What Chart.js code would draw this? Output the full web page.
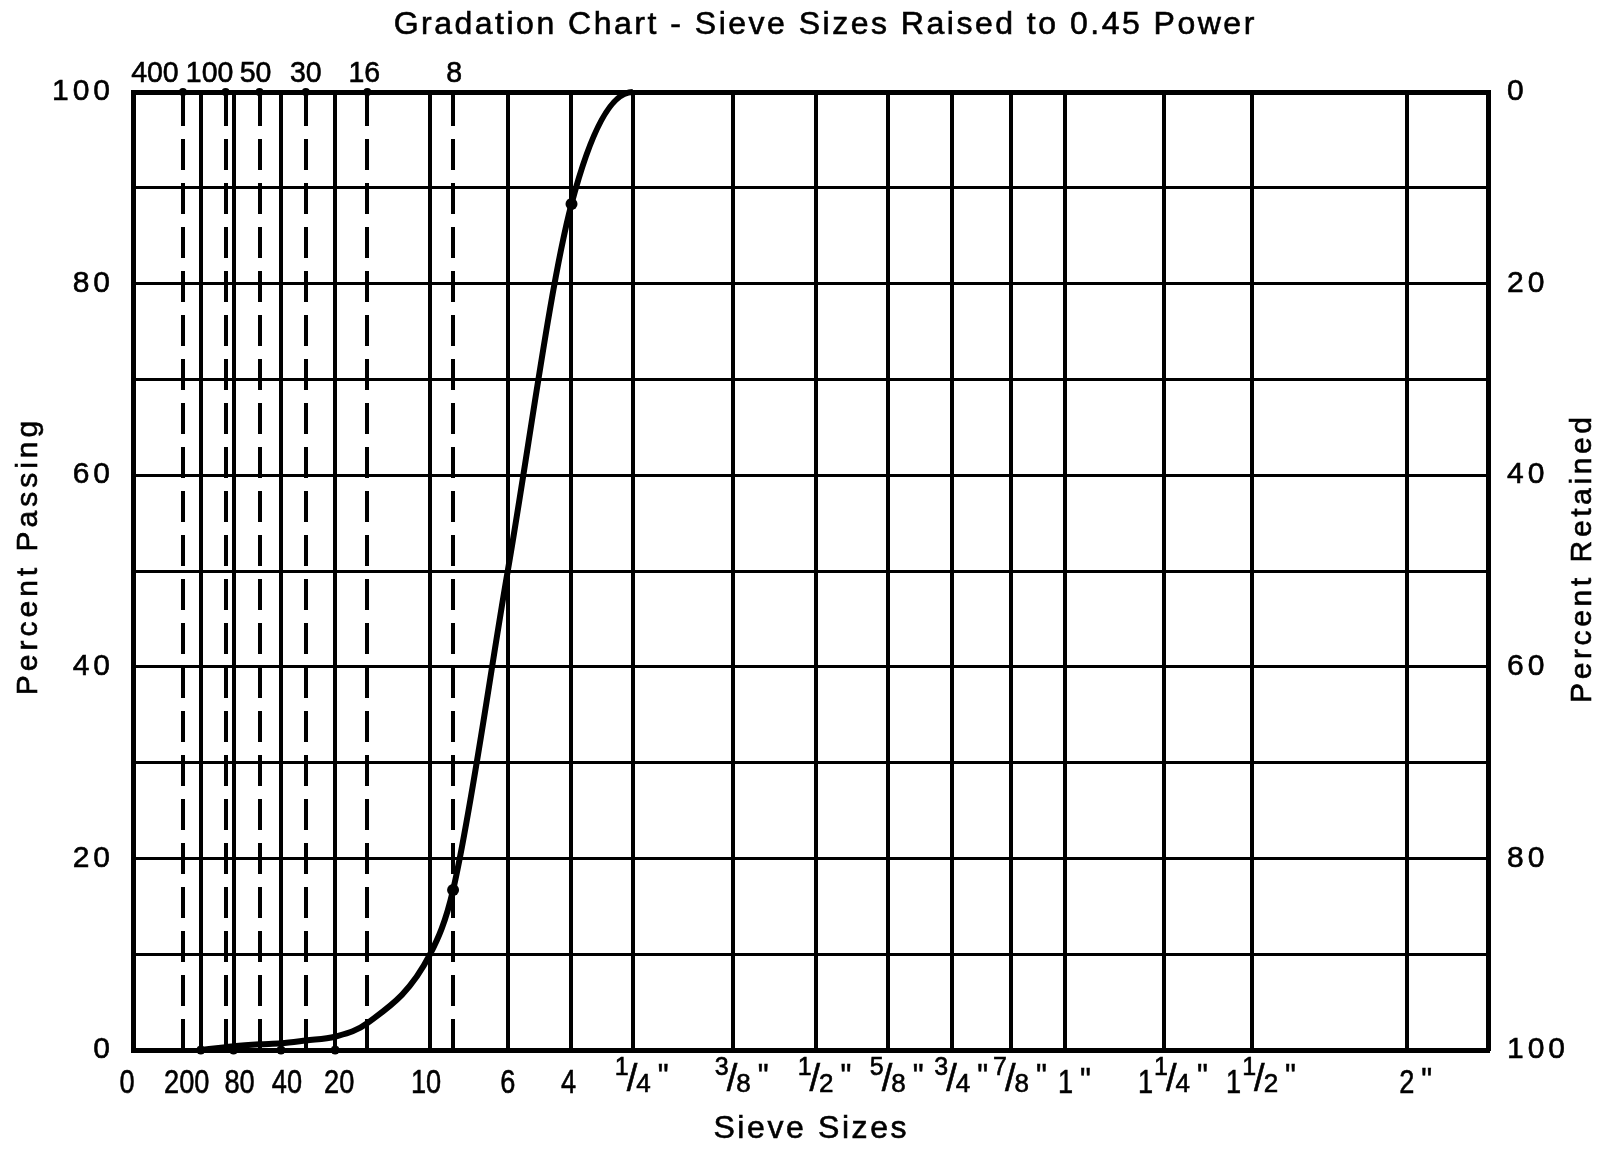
<!DOCTYPE html>
<html>
<head>
<meta charset="utf-8">
<title>Gradation Chart</title>
<script src="https://cdn.jsdelivr.net/npm/chart.js@4.4.1/dist/chart.umd.min.js"></script>
<style>
	html, body { margin: 0; padding: 0; background: #fff; }
	canvas { display: block; }
</style>
</head>
<body>
<canvas id="chart" width="1614" height="1154"></canvas>
<script>
// Sieves labelled along the top (dashed lines), openings in mm
const topSieves = ['400', '100', '50', '30', '16', '8']
const topMm = [0.038, 0.15, 0.3, 0.6, 1.18, 2.36]

// Sieves labelled along the bottom (solid lines)
const bottomSieves = ['200', '80', '40', '20', '10', '6', '4', '1/4"', '3/8"', '1/2"', '5/8"', '3/4"', '7/8"', '1"', '1 1/4"', '1 1/2"', '2"']
const bottomMm = [0.075, 0.18, 0.425, 0.85, 2.0, 3.35, 4.75, 6.35, 9.525, 12.7, 15.875, 19.05, 22.225, 25.4, 31.75, 38.1, 50.8]
const originLabel = '0'

// Gradation curve, percent passing per sieve
const curveSieves = ['200', '100', '80', '50', '40', '30', '20', '16', '10', '8', '6', '4', '1/4"', '3/8"']
const percentPassing = [0, 0.3, 0.4, 0.6, 0.7, 1.0, 1.4, 2.8, 10, 16.7, 50, 88.3, 100, 100]
const markedSieves = ['8', '4']

// Small dots on the frame
const topDotSieves = ['400', '100', '50', '30', '16']
const bottomDotSieves = ['200', '80', '40', '20']

const passingLabels = [0, 20, 40, 60, 80, 100]
const retainedLabels = [0, 20, 40, 60, 80, 100]

const titleText = 'Gradation Chart - Sieve Sizes Raised to 0.45 Power'
const xTitle = 'Sieve Sizes'
const yTitle = 'Percent Passing'
const y2Title = 'Percent Retained'

const FONT = "'Liberation Sans', Arial, Helvetica, sans-serif"
const X_MAX = 6.23
const INK = 0.6 // faint outline so the lettering reads as heavy as the print

// hand-lettered labels sit a little off their lines
const labelNudge = { '0': -6, '200': -14, '80': 6, '40': 6, '20': 4, '10': -4, '4': -3, '400': -28, '100': -16, '50': -4, '16': -3, '8': 1 }

const pow45 = (mm) => Math.pow(mm, 0.45)
const mmOf = (name) => {
	const i = topSieves.indexOf(name)
	return i >= 0 ? topMm[i] : bottomMm[bottomSieves.indexOf(name)]
}

Chart.defaults.font.family = FONT
Chart.defaults.color = '#000'

function drawText(ctx, text, x, y, opts) {
	const { size, spacing = 0, align = 'center', baseline = 'middle', angle = 0, squeeze = 1 } = opts
	ctx.save()
	ctx.translate(x, y)
	ctx.rotate(angle)
	ctx.scale(squeeze, 1)
	ctx.font = `${size}px ${FONT}`
	ctx.letterSpacing = `${spacing}px`
	ctx.textAlign = align
	ctx.textBaseline = baseline
	let dx = 0
	if (align === 'center') dx = spacing / 2
	if (align === 'right') dx = spacing
	ctx.fillStyle = '#000'
	ctx.strokeStyle = '#000'
	ctx.lineWidth = INK
	ctx.fillText(text, dx, 0)
	ctx.strokeText(text, dx, 0)
	ctx.restore()
}

function textWidth(ctx, text, size, squeeze) {
	ctx.save()
	ctx.font = `${size}px ${FONT}`
	ctx.letterSpacing = '0px'
	const w = ctx.measureText(text).width * squeeze
	ctx.restore()
	return w
}

// bottom labels: plain numbers condensed, fractions stacked like 1/4"
function drawSieveLabel(ctx, label, cx) {
	const inch = label.endsWith('"')
	const body = inch ? label.slice(0, -1) : label
	const frac = body.match(/^(?:(\d+) )?(\d+)\/(\d+)$/)
	const parts = []
	if (frac) {
		if (frac[1]) parts.push({ text: frac[1], size: 34, sq: 0.8, base: 1093, kern: 0 })
		parts.push({ text: frac[2], size: 25, sq: 1, base: 1075, kern: frac[1] ? 1 : 0 })
		parts.push({ text: '/', size: 38, sq: 1, base: 1091, kern: -2 })
		parts.push({ text: frac[3], size: 26, sq: 1, base: 1092, kern: -1 })
	} else {
		parts.push({ text: body, size: 34, sq: 0.8, base: 1093, kern: 0 })
	}
	let total = 0
	parts.forEach((p) => {
		p.w = textWidth(ctx, p.text, p.size, p.sq)
		total += p.w + p.kern
	})
	let cursor = cx + (labelNudge[label] || 0) - total / 2
	parts.forEach((p) => {
		cursor += p.kern
		drawText(ctx, p.text, cursor, p.base, { size: p.size, squeeze: p.sq, align: 'left', baseline: 'alphabetic' })
		cursor += p.w
	})
	if (inch) {
		drawText(ctx, '"', cursor + 7, frac ? 1087 : 1091, { size: 34, squeeze: 0.9, align: 'left', baseline: 'alphabetic' })
	}
}

const textPlugin = {
	id: 'gradationText',
	afterDraw(chart) {
		const { ctx } = chart
		const { x, xTop, y, yRight } = chart.scales

		drawText(ctx, titleText, 824, 25, { size: 32, spacing: 2.5 })
		drawText(ctx, xTitle, 810, 1129, { size: 32, spacing: 2.6 })
		drawText(ctx, yTitle, 29, 558, { size: 30, spacing: 4, angle: -Math.PI / 2 })
		drawText(ctx, y2Title, 1583, 560, { size: 30, spacing: 3.6, angle: -Math.PI / 2 })

		passingLabels.forEach((v) => {
			drawText(ctx, String(v), 110, y.getPixelForValue(v), { size: 30, spacing: 4, align: 'right' })
		})
		retainedLabels.forEach((v) => {
			drawText(ctx, String(v), 1507, yRight.getPixelForValue(v), { size: 30, spacing: 4, align: 'left' })
		})

		topSieves.forEach((name, i) => {
			const px = xTop.getPixelForValue(pow45(topMm[i])) + (labelNudge[name] || 0)
			drawText(ctx, name, px, 74, { size: 30, squeeze: 0.95 })
		})

		drawSieveLabel(ctx, originLabel, x.getPixelForValue(0))
		bottomSieves.forEach((name, i) => {
			drawSieveLabel(ctx, name, x.getPixelForValue(pow45(bottomMm[i])))
		})
	},
}

const curveData = curveSieves.map((name, i) => ({ x: pow45(mmOf(name)), y: percentPassing[i] }))
const topDots = topDotSieves.map((name) => ({ x: pow45(mmOf(name)), y: 100 }))
const bottomDots = bottomDotSieves.map((name) => ({ x: pow45(mmOf(name)), y: 0 }))
const lastSegment = curveData.length - 2

new Chart(document.getElementById('chart'), {
	type: 'scatter',
	data: {
		datasets: [
			{
				label: 'Percent passing',
				data: curveData,
				showLine: true,
				cubicInterpolationMode: 'monotone',
				borderColor: '#000',
				borderWidth: 6,
				// the 100% run past 1/4" only shapes the curve; it lies on the frame
				segment: {
					borderColor: (c) => (c.p0DataIndex === lastSegment ? 'rgba(0,0,0,0)' : undefined),
				},
				pointRadius: curveSieves.map((s) => (markedSieves.includes(s) ? 6 : 0)),
				pointBackgroundColor: '#000',
				pointBorderWidth: 0,
				clip: false,
			},
			{
				label: 'Top sieve marks',
				data: topDots,
				pointRadius: 4,
				pointBackgroundColor: '#000',
				pointBorderWidth: 0,
				clip: false,
			},
			{
				label: 'Bottom sieve marks',
				data: bottomDots,
				pointRadius: 4.5,
				pointBackgroundColor: '#000',
				pointBorderWidth: 0,
				clip: false,
			},
		],
	},
	options: {
		responsive: false,
		animation: false,
		layout: { padding: 0 },
		plugins: {
			legend: { display: false },
			title: { display: false },
			tooltip: { enabled: false },
		},
		scales: {
			x: {
				type: 'linear',
				position: 'bottom',
				min: 0,
				max: X_MAX,
				afterBuildTicks: (scale) => {
					scale.ticks = bottomMm.map((mm) => ({ value: pow45(mm) }))
				},
				afterFit: (scale) => {
					scale.height = 104
				},
				ticks: { display: false },
				grid: { color: '#000', lineWidth: 4, drawTicks: false },
				border: { color: '#000', width: 5 },
			},
			xTop: {
				type: 'linear',
				position: 'top',
				min: 0,
				max: X_MAX,
				afterBuildTicks: (scale) => {
					scale.ticks = topMm.map((mm) => ({ value: pow45(mm) }))
				},
				afterFit: (scale) => {
					scale.height = 92
				},
				ticks: { display: false },
				grid: { color: '#000', lineWidth: 4, drawTicks: false },
				border: { color: '#000', width: 5, dash: [31, 13] },
			},
			y: {
				position: 'left',
				min: 0,
				max: 100,
				afterFit: (scale) => {
					scale.width = 133
				},
				ticks: { stepSize: 10, display: false },
				grid: { color: '#000', lineWidth: 3, drawTicks: false },
				border: { color: '#000', width: 5 },
			},
			yRight: {
				position: 'right',
				min: 0,
				max: 100,
				reverse: true,
				afterFit: (scale) => {
					scale.width = 126
				},
				ticks: { stepSize: 20, display: false },
				grid: { drawOnChartArea: false, drawTicks: false },
				border: { color: '#000', width: 5 },
			},
		},
	},
	plugins: [textPlugin],
})
</script>
</body>
</html>
